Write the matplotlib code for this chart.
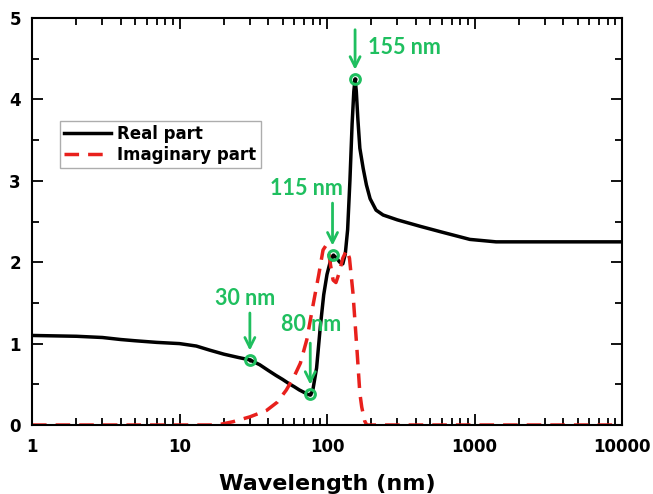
import numpy as np
import matplotlib
matplotlib.use('Agg')
from matplotlib import pyplot as plt
from matplotlib.ticker import FixedLocator, MultipleLocator

# Real part of the refractive index
real_wl = [1, 2, 3, 4, 5, 7, 10, 13, 16, 20, 25, 30, 35, 40, 45, 50, 55, 60, 65,
           70, 74, 77, 80, 85, 90, 95, 100, 105, 110, 115, 122, 128, 133, 138,
           143, 148, 152, 155, 158, 162, 167, 176, 185, 196, 215, 240, 300, 430,
           600, 930, 1400, 2000, 5000, 10000]
real_n = [1.10, 1.09, 1.075, 1.05, 1.035, 1.015, 1.0, 0.97, 0.92, 0.87, 0.83,
          0.80, 0.74, 0.67, 0.61, 0.56, 0.51, 0.47, 0.43, 0.40, 0.375, 0.37,
          0.42, 0.7, 1.2, 1.6, 1.85, 2.0, 2.08, 2.06, 2.0, 1.98, 2.1, 2.4, 3.0,
          3.7, 4.1, 4.25, 4.1, 3.75, 3.4, 3.15, 2.95, 2.78, 2.64, 2.58, 2.52,
          2.44, 2.37, 2.28, 2.25, 2.25, 2.25, 2.25]

# Imaginary part
imag_wl = [1, 10, 18, 23, 30, 39, 46, 53, 60, 66, 73, 80, 88, 94, 98, 102, 106,
           110, 115, 120, 128, 136, 142, 150, 160, 167, 172, 180, 186, 200, 1000, 10000]
imag_k = [0, 0, 0, 0.04, 0.1, 0.18, 0.28, 0.43, 0.6, 0.76, 1.05, 1.45, 1.85,
          2.15, 2.2, 2.15, 1.95, 1.78, 1.75, 1.85, 2.05, 2.15, 2.05, 1.62, 0.9,
          0.39, 0.22, 0.05, 0, 0, 0, 0]

# Marked points: label, point x, point y, text x, text y, arrow tail y, text align
marks = [
    ("155 nm", 155, 4.25, 190, 4.64, 4.89, 'left'),
    ("115 nm", 109, 2.09, 72.6, 2.90, 2.76, 'center'),
    ("30 nm", 30, 0.80, 27.8, 1.56, 1.41, 'center'),
    ("80 nm", 77, 0.38, 77.9, 1.23, 1.04, 'center'),
]

green = '#1fbf5f'
plt.rcParams['font.family'] = ['DejaVu Sans']

fig = plt.figure(figsize=(6.53, 4.94), dpi=100)
ax = fig.add_axes([32/653, 1-425/494, 590/653, 407/494])

ax.plot(real_wl, real_n, color='black', lw=2.5, label='Real part')
ax.plot(imag_wl, imag_k, color='#e8201c', lw=2.5, dashes=(4.2, 2.6), label='Imaginary part')

for lab, x, y, tx, ty, ay, ha in marks:
    ax.plot(x, y, 'o', ms=7, mfc='none', mec=green, mew=2.2, zorder=5)
    ax.plot(x, y, 'o', ms=2, color='black', zorder=6)
    ax.annotate('', xy=(x, y + 0.08), xytext=(x, ay),
                arrowprops=dict(arrowstyle='->', color=green, lw=2, mutation_scale=18))
    ax.text(tx, ty, lab, color=green, fontsize=15.5, fontweight='bold',
            family=['Lato', 'DejaVu Sans'], ha=ha, va='center')

ax.set_xscale('log')
ax.set_xlim(1, 10000)
ax.set_ylim(0, 5)
ax.xaxis.set_major_locator(FixedLocator([1, 10, 100, 1000, 10000]))
ax.set_xticklabels(['1', '10', '100', '1000', '10000'])
ax.yaxis.set_major_locator(MultipleLocator(1))
ax.yaxis.set_minor_locator(MultipleLocator(0.5))
ax.tick_params(which='both', direction='in', top=True, right=True, width=1.3)
ax.tick_params(which='major', length=8, labelsize=12)
ax.tick_params(axis='x', which='major', pad=9)
ax.tick_params(axis='y', which='major', pad=8)
ax.tick_params(which='minor', length=5)
for lbl in ax.get_xticklabels() + ax.get_yticklabels():
    lbl.set_fontweight('bold')
for s in ax.spines.values():
    s.set_linewidth(1.5)

ax.set_xlabel('Wavelength (nm)', fontsize=16, fontweight='bold', labelpad=13)

leg = ax.legend(loc='upper left', bbox_to_anchor=(0.047, 0.748),
                prop={'weight': 'bold', 'size': 12}, fancybox=False,
                edgecolor='#999999', handlelength=2.8, borderpad=0.25,
                labelspacing=0.2, handletextpad=0.4, borderaxespad=0)
leg.get_frame().set_linewidth(1)

fig.savefig('out.png', dpi=100)
